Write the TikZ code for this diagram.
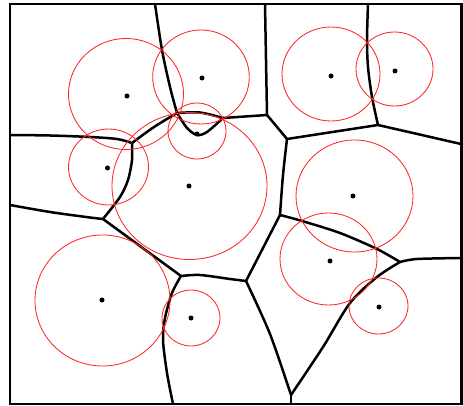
\documentclass[tikz,border=0pt]{standalone}
\begin{document}
\begin{tikzpicture}[x=1pt,y=-1pt,
  edge/.style={line width=2.5pt,line join=round,line cap=round},
  frame/.style={line width=2.8pt},
  wcirc/.style={red!85,line width=0.85pt},
  site/.style={circle,fill=black,inner sep=0pt,minimum size=5pt}]
\useasboundingbox (0,0) rectangle (463,406);
% vertices
\coordinate (A) at (177,113);
\coordinate (K) at (223,118);
\coordinate (J) at (267,115);
\coordinate (G) at (287,139);
\coordinate (L) at (378,125);
\coordinate (B) at (132,143);
\coordinate (C) at (103,219);
\coordinate (D) at (181,276);
\coordinate (E) at (246,281);
\coordinate (F) at (280,215);
\coordinate (H) at (400,262);
\coordinate (I) at (291,395);
% border ends
\coordinate (T1) at (155,4);
\coordinate (T2) at (265,4);
\coordinate (T3) at (368,4);
\coordinate (R1) at (461,144);
\coordinate (R2) at (461,258);
\coordinate (L1) at (10,135);
\coordinate (L2) at (10,205);
\coordinate (B1) at (173,404);
\coordinate (B2) at (291,404);
% frame
\draw[frame] (10,4) rectangle (461.5,404);
% edges
\draw[edge] plot[smooth,tension=0.5] coordinates {(T1) (162,50) (170,87) (A)};
\draw[edge] plot[smooth,tension=0.5] coordinates {(A) (200,112.5) (K)};
\draw[edge] plot[smooth,tension=0.5] coordinates {(A) (187,128) (197,135) (207,132) (K)};
\draw[edge] plot[smooth,tension=0.5] coordinates {(K) (245,116.5) (J)};
\draw[edge] (J) -- (T2);
\draw[edge] (J) -- (G);
\draw[edge] plot[smooth,tension=0.5] coordinates {(G) (283,175) (F)};
\draw[edge] (G) -- (L);
\draw[edge] plot[smooth,tension=0.5] coordinates {(L) (372,97) (368,67) (367,40) (T3)};
\draw[edge] plot[smooth,tension=0.5] coordinates {(L) (413,133) (R1)};
\draw[edge] plot[smooth,tension=0.5] coordinates {(A) (154,127) (B)};
\draw[edge] plot[smooth,tension=0.5] coordinates {(B) (117,139) (90,137) (50,135.5) (L1)};
\draw[edge] plot[smooth,tension=0.5] coordinates {(B) (132,160) (128,180) (120,197) (C)};
\draw[edge] plot[smooth,tension=0.5] coordinates {(C) (90,217.5) (50,212) (L2)};
\draw[edge] (C) -- (D);
\draw[edge] plot[smooth,tension=0.5] coordinates {(D) (200,275) (230,279) (E)};
\draw[edge] plot[smooth,tension=0.5] coordinates {(D) (172,293) (165,318) (163,340) (167,373) (B1)};
\draw[edge] (E) -- (F);
\draw[edge] plot[smooth,tension=0.5] coordinates {(F) (302,221) (340,233) (377,249) (H)};
\draw[edge] plot[smooth,tension=0.5] coordinates {(H) (417,259) (R2)};
\draw[edge] plot[smooth,tension=0.5] coordinates {(H) (377,277) (350,303) (323,347) (I)};
\draw[edge] plot[smooth,tension=0.5] coordinates {(E) (270,334) (I)};
\draw[edge] (I) -- (B2);
% weight circles
\draw[wcirc] (126,94) ellipse [x radius=57.5,y radius=55.5];
\draw[wcirc] (201,77) ellipse [x radius=48.3,y radius=47];
\draw[wcirc] (197,131) ellipse [x radius=29,y radius=28];
\draw[wcirc] (108.5,167) ellipse [x radius=40,y radius=38];
\draw[wcirc] (189.5,186) ellipse [x radius=77.5,y radius=73.5];
\draw[wcirc] (331,74) ellipse [x radius=49,y radius=47];
\draw[wcirc] (394.5,69) ellipse [x radius=38.5,y radius=37];
\draw[wcirc] (354.5,196) ellipse [x radius=58.5,y radius=56];
\draw[wcirc] (328.5,259) ellipse [x radius=48.5,y radius=46];
\draw[wcirc] (378.5,306) ellipse [x radius=29.5,y radius=28];
\draw[wcirc] (102.5,300.5) ellipse [x radius=67.5,y radius=65.5];
\draw[wcirc] (191,318) ellipse [x radius=29,y radius=28];
% sites
\node[site] (s1) at (127,96) {};
\node[site] (s2) at (202,78) {};
\node[site] (s3) at (197,134) {};
\node[site] (s4) at (107.5,168) {};
\node[site] (s5) at (189,186) {};
\node[site] (s6) at (331,76) {};
\node[site] (s7) at (395,71) {};
\node[site] (s8) at (353,196) {};
\node[site] (s9) at (330,261) {};
\node[site] (s10) at (379,307) {};
\node[site] (s11) at (102,300) {};
\node[site] (s12) at (191,318) {};
\end{tikzpicture}
\end{document}
